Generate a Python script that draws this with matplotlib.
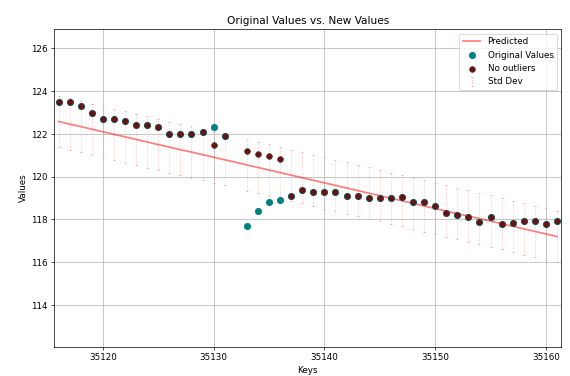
import numpy as np
import matplotlib
matplotlib.use("Agg")
import matplotlib.pyplot as plt

# key 35132 has no data
keys = list(range(35116, 35132)) + list(range(35133, 35162))

original_values = [123.5, 123.5, 123.3, 123.0, 122.7, 122.7, 122.6, 122.4, 122.4, 122.3,
                   122.0, 122.0, 122.0, 122.1, 122.3, 121.9,
                   117.7, 118.4, 118.8, 118.9, 119.1, 119.4, 119.3, 119.3, 119.3, 119.1,
                   119.1, 119.0, 119.0, 119.0, 119.05, 118.83, 118.83, 118.62, 118.28, 118.2,
                   118.12, 117.89, 118.12, 117.78, 117.82, 117.92, 117.92, 117.78, 117.92]

no_outliers = [123.5, 123.5, 123.3, 123.0, 122.7, 122.7, 122.6, 122.4, 122.4, 122.3,
               122.0, 122.0, 122.0, 122.1, 121.47, 121.9,
               121.19, 121.07, 120.96, 120.83, 119.1, 119.4, 119.3, 119.3, 119.3, 119.1,
               119.1, 119.0, 119.0, 119.0, 119.05, 118.83, 118.83, 118.62, 118.28, 118.2,
               118.12, 117.89, 118.12, 117.78, 117.82, 117.92, 117.92, 117.78, 117.92]

predicted = [122.58, 122.46, 122.34, 122.22, 122.10, 121.98, 121.86, 121.74, 121.62, 121.50,
             121.38, 121.26, 121.15, 121.03, 120.91, 120.79,
             120.55, 120.43, 120.31, 120.19, 120.07, 119.95, 119.83, 119.71, 119.59, 119.47,
             119.35, 119.23, 119.11, 118.99, 118.87, 118.75, 118.63, 118.51, 118.39, 118.27,
             118.16, 118.04, 117.92, 117.80, 117.68, 117.56, 117.44, 117.32, 117.20]

std_dev = 1.2


def plot_values():
    fig = plt.figure(figsize=(9, 5.94), dpi=570 / 9)
    ax = fig.add_subplot(111)
    fig.subplots_adjust(left=0.095, right=0.985, bottom=0.078, top=0.922)

    ax.plot(keys, predicted, color='red', alpha=0.5, linewidth=2, label='Predicted', zorder=2)
    ax.scatter(keys, original_values, color='teal', s=50, label='Original Values', zorder=3)
    ax.scatter(keys, no_outliers, color='#6e1010', edgecolors='#3a3a3a', linewidths=0.8,
               s=42, label='No outliers', zorder=4)
    eb = ax.errorbar(keys, predicted, yerr=std_dev, fmt='none', ecolor='red', alpha=0.35,
                     elinewidth=0.8, capsize=1.5, label='Std Dev', zorder=1)
    eb.lines[2][0].set_linestyle(':')

    ax.set_xlim(35115.6, 35161.4)
    ax.set_ylim(112.05, 126.9)
    ax.set_title('Original Values vs. New Values')
    ax.set_xlabel('Keys')
    ax.set_ylabel('Values')
    ax.grid(True)
    ax.legend(loc='upper right')

    fig.savefig('out.png', dpi=570 / 9)


def main():
    plot_values()


if __name__ == '__main__':
    main()
